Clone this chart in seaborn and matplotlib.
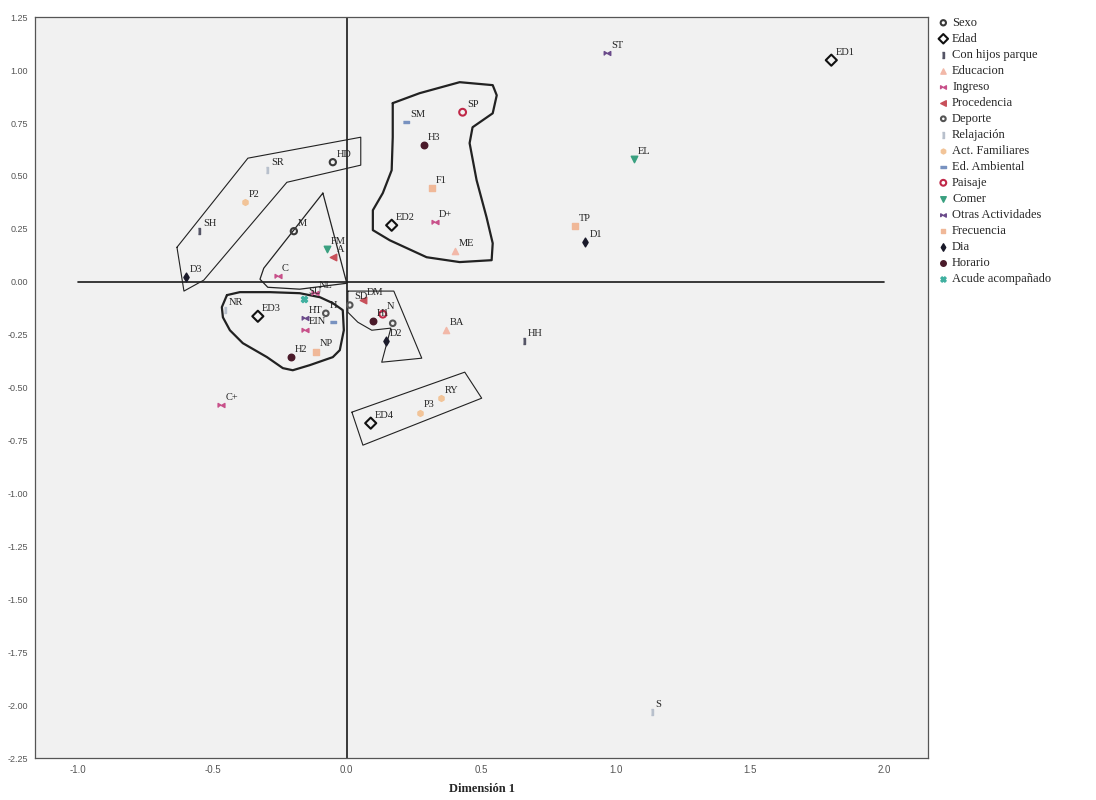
import pandas as pd
import numpy as np
import matplotlib
matplotlib.use('Agg')
import matplotlib.pyplot as plt
import seaborn as sns

# coordenadas de las categorias (Dimension 1, Dimension 2)
etiquetas = ['ST', 'ED1', 'SP', 'SM', 'H3', 'EL', 'HD', 'SR', 'F1', 'P2',
             'ED2', 'D+', 'SH', 'M', 'TP', 'D1', 'ME', 'FM', 'A', 'C',
             'D3', 'SU', 'NL', 'NR', 'ED3', 'HT', 'H', '', 'EIN', 'NP',
             'H2', 'DM', 'SD', 'N', 'H1', '', 'D2', 'BA', 'HH', 'C+',
             'RY', 'P3', 'ED4', 'S']
dim1 = [0.970, 1.803, 0.431, 0.219, 0.286, 1.067, -0.052, -0.297, 0.316, -0.379,
        0.167, 0.327, -0.550, -0.197, 0.848, 0.888, 0.401, -0.074, -0.052, -0.257,
        -0.599, -0.160, -0.119, -0.454, -0.331, -0.156, -0.078, -0.052, -0.156, -0.115,
        -0.208, 0.059, 0.011, 0.134, 0.097, 0.171, 0.145, 0.368, 0.658, -0.468,
        0.349, 0.271, 0.089, 1.134]
dim2 = [1.080, 1.047, 0.801, 0.754, 0.645, 0.579, 0.565, 0.527, 0.442, 0.376,
        0.267, 0.282, 0.239, 0.239, 0.263, 0.186, 0.145, 0.153, 0.115, 0.026,
        0.022, -0.082, -0.054, -0.134, -0.163, -0.172, -0.149, -0.191, -0.228, -0.330,
        -0.356, -0.087, -0.110, -0.153, -0.186, -0.196, -0.281, -0.229, -0.281, -0.583,
        -0.550, -0.620, -0.668, -2.033]
grupos = ['Otras Actividades', 'Edad', 'Paisaje', 'Ed. Ambiental', 'Horario', 'Comer',
          'Sexo', 'Relajación', 'Frecuencia', 'Act. Familiares',
          'Edad', 'Ingreso', 'Con hijos parque', 'Sexo', 'Frecuencia', 'Dia',
          'Educacion', 'Comer', 'Procedencia', 'Ingreso',
          'Dia', 'Acude acompañado', 'Ingreso', 'Relajación', 'Edad', 'Otras Actividades',
          'Deporte', 'Ed. Ambiental', 'Ingreso', 'Frecuencia',
          'Horario', 'Procedencia', 'Deporte', 'Paisaje', 'Horario', 'Deporte',
          'Dia', 'Educacion', 'Con hijos parque', 'Ingreso',
          'Act. Familiares', 'Act. Familiares', 'Edad', 'Relajación']

orden_leyenda = ['Sexo', 'Edad', 'Con hijos parque', 'Educacion', 'Ingreso',
                 'Procedencia', 'Deporte', 'Relajación', 'Act. Familiares',
                 'Ed. Ambiental', 'Paisaje', 'Comer', 'Otras Actividades',
                 'Frecuencia', 'Dia', 'Horario', 'Acude acompañado']

# contornos de los grupos dibujados a mano
poly_banda = [(-0.632, 0.163), (-0.368, 0.584), (0.052, 0.683), (0.052, 0.551),
              (-0.223, 0.470), (-0.532, 0.008), (-0.606, -0.044), (-0.632, 0.163)]
poly_triangulo = [(-0.089, 0.419), (0.0, -0.007), (-0.175, -0.035), (-0.294, -0.026),
                  (-0.323, 0.012), (-0.309, 0.064), (-0.089, 0.419)]
poly_grande = [(0.171, 0.844), (0.271, 0.891), (0.420, 0.943), (0.543, 0.929),
               (0.558, 0.881), (0.543, 0.796), (0.468, 0.730), (0.457, 0.655),
               (0.483, 0.480), (0.520, 0.305), (0.543, 0.182), (0.539, 0.102),
               (0.420, 0.093), (0.297, 0.116), (0.160, 0.196), (0.097, 0.244),
               (0.097, 0.338), (0.134, 0.419), (0.167, 0.527), (0.171, 0.683),
               (0.171, 0.844)]
poly_mancha = [(-0.446, -0.063), (-0.398, -0.049), (-0.286, -0.049), (-0.175, -0.054),
               (-0.100, -0.073), (-0.052, -0.101), (-0.015, -0.134), (-0.011, -0.229),
               (-0.026, -0.323), (-0.052, -0.356), (-0.138, -0.394), (-0.201, -0.418),
               (-0.238, -0.408), (-0.297, -0.356), (-0.387, -0.290), (-0.435, -0.229),
               (-0.461, -0.168), (-0.465, -0.120), (-0.446, -0.063)]
poly_d2 = [(0.004, -0.044), (0.175, -0.044), (0.279, -0.361), (0.130, -0.380),
           (0.164, -0.219), (0.093, -0.229), (0.041, -0.191), (0.004, -0.144),
           (0.004, -0.044)]
poly_rect = [(0.019, -0.616), (0.439, -0.427), (0.502, -0.550), (0.060, -0.772),
             (0.019, -0.616)]

df = pd.DataFrame({'dim1': dim1, 'dim2': dim2, 'grupo': grupos, 'etiqueta': etiquetas})

bowtie = [(-1, -0.6), (-1, 0.6), (0, 0), (1, 0.6), (1, -0.6), (0, 0)]
barra_h = [(-1, -0.35), (1, -0.35), (1, 0.35), (-1, 0.35)]
barra_v = [(-0.4, -1), (0.4, -1), (0.4, 1), (-0.4, 1)]

# marcador, color, relleno, tamaño
estilos = {
    'Sexo': ('o', '#3a3a3a', False, 20),
    'Edad': ('D', '#111111', False, 32),
    'Con hijos parque': (barra_v, '#555566', True, 24),
    'Educacion': ('^', '#f2b8a8', True, 20),
    'Ingreso': (bowtie, '#c8508a', True, 24),
    'Procedencia': ('<', '#c8505a', True, 22),
    'Deporte': ('o', '#555555', False, 16),
    'Relajación': (barra_v, '#b8c0cc', True, 20),
    'Act. Familiares': ('h', '#f2c498', True, 18),
    'Ed. Ambiental': (barra_h, '#7892c0', True, 24),
    'Paisaje': ('o', '#c02848', False, 24),
    'Comer': ('v', '#3aa080', True, 22),
    'Otras Actividades': (bowtie, '#6a4a8a', True, 22),
    'Frecuencia': ('s', '#f0b898', True, 14),
    'Dia': ('d', '#1a1a2a', True, 20),
    'Horario': ('o', '#4a1a2a', True, 22),
    'Acude acompañado': ('X', '#40b0a0', True, 20),
}

sns.set_style('white')
plt.rcParams['font.family'] = ['Liberation Serif', 'DejaVu Serif']

fig = plt.figure(figsize=(10.96, 8), dpi=100)
ax = fig.add_axes([0.032, 0.0525, 0.815, 0.926])
ax.set_facecolor('#f1f1f1')

# lineas de referencia
ax.plot([-1.0, 2.0], [0, 0], color='#1a1a1a', lw=1.2, zorder=1)
ax.axvline(0, color='#1a1a1a', lw=1.2, zorder=1)

for poly, lw in [(poly_banda, 0.8), (poly_triangulo, 0.9), (poly_grande, 1.6),
                 (poly_mancha, 1.6), (poly_d2, 0.8), (poly_rect, 0.8)]:
    xs, ys = zip(*poly)
    ax.plot(xs, ys, color='#222222', lw=lw, zorder=2, solid_joinstyle='round')

for g in orden_leyenda:
    marker, col, lleno, s = estilos[g]
    sub = df[df['grupo'] == g]
    sns.scatterplot(data=sub, x='dim1', y='dim2', ax=ax, marker=marker, s=s,
                    color=col, facecolor=col if lleno else 'none', edgecolor=col,
                    linewidth=1.0 if lleno else 1.5, label=g, zorder=3)

for _, r in df.iterrows():
    if r['etiqueta']:
        ax.annotate(r['etiqueta'], (r['dim1'], r['dim2']), xytext=(3, 4),
                    textcoords='offset points', fontsize=7.5, color='#222222',
                    zorder=4)

ax.set_xlim(-1.16, 2.164)
ax.set_ylim(-2.25, 1.25)
ax.set_xticks([-1.0, -0.5, 0.0, 0.5, 1.0, 1.5, 2.0])
ax.set_yticks(np.arange(-2.25, 1.26, 0.25))
ax.set_xticklabels(['-1.0', '-0.5', '0.0', '0.5', '1.0', '1.5', '2.0'],
                   family='Liberation Sans', fontsize=7, color='#555555')
ax.set_yticklabels([f'{v:.2f}' for v in np.arange(-2.25, 1.26, 0.25)],
                   family='Liberation Sans', fontsize=6.5, color='#555555')
ax.tick_params(direction='out', length=4, width=0.8, color='#444444', pad=1)
ax.set_xlabel('Dimensión 1', fontsize=9, fontweight='bold', labelpad=6)
ax.set_ylabel('')
for sp in ax.spines.values():
    sp.set_color('#555555')
    sp.set_linewidth(0.9)

ax.legend(loc='upper left', bbox_to_anchor=(1.0, 1.012), frameon=False,
          fontsize=9, handletextpad=0.2, labelspacing=0.32, borderaxespad=0.3,
          handlelength=1.0, scatterpoints=1, markerscale=0.85)

plt.savefig('out.png', dpi=100)
